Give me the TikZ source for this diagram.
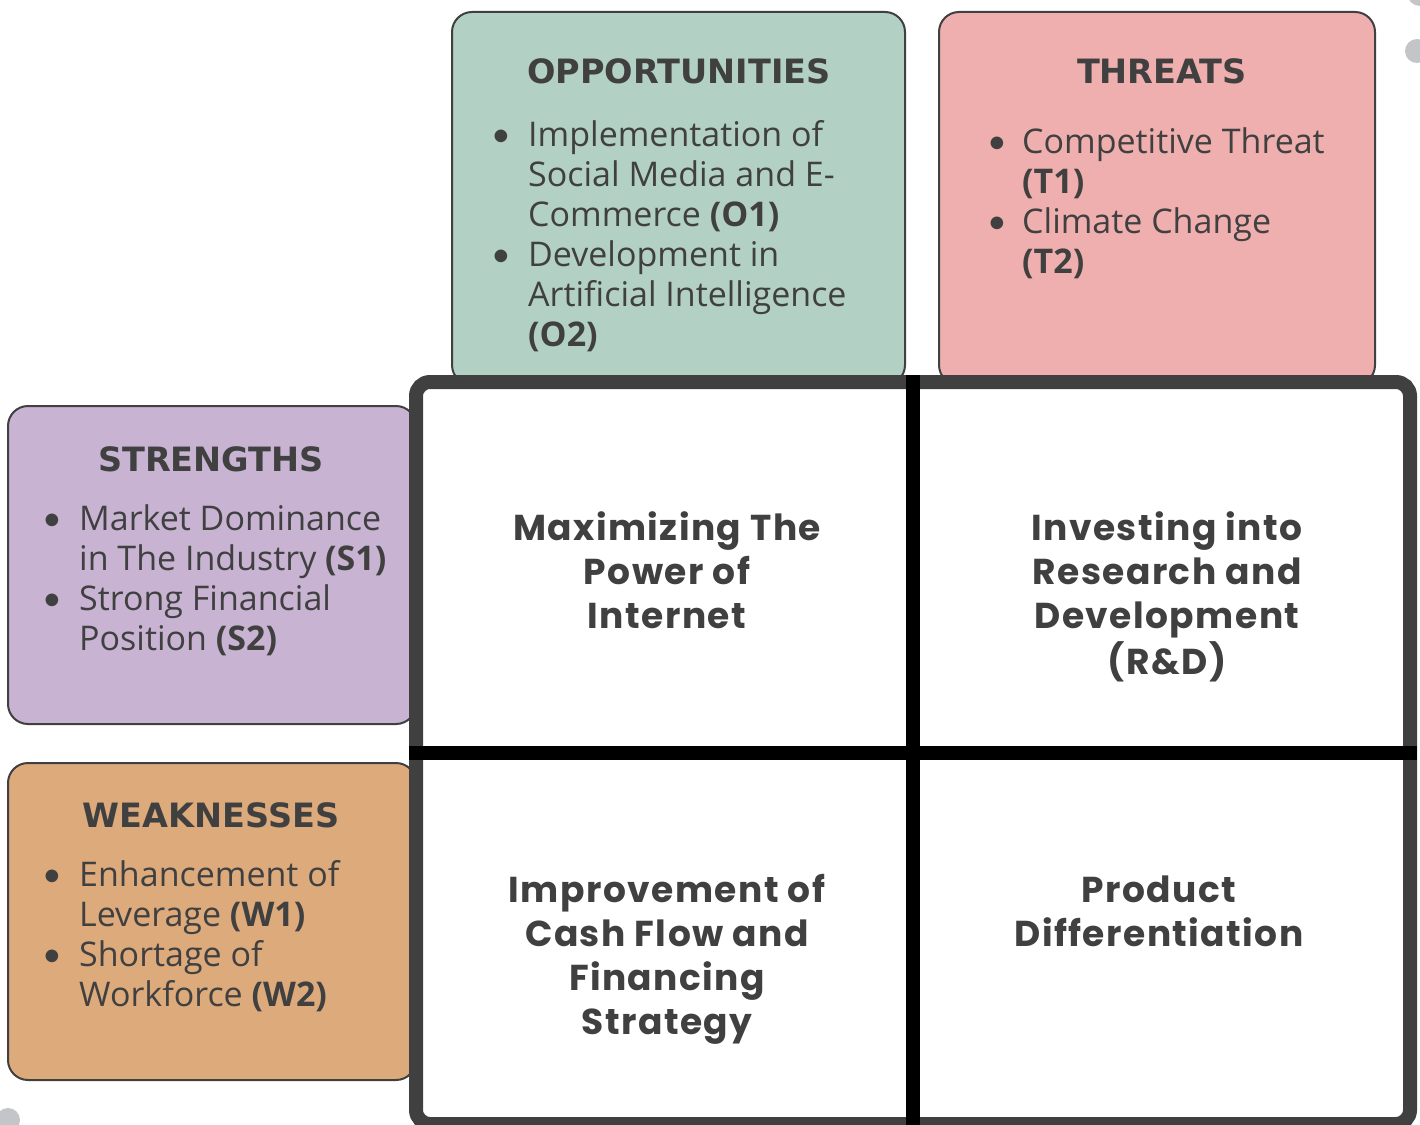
\documentclass[tikz,border=0pt]{standalone}
\usepackage{fontspec}
\setmainfont[Ligatures=CommonOff]{Open Sans}
\newfontfamily\cellfamily[LetterSpace=4]{Poppins}
\newfontfamily\headfamily{DejaVu Sans}
\newfontfamily\dotfamily{Lato}
\definecolor{oppgreen}{RGB}{179,208,196}
\definecolor{threatred}{RGB}{240,175,175}
\definecolor{strengthpurple}{RGB}{200,179,211}
\definecolor{weakorange}{RGB}{221,170,124}
\definecolor{inkgray}{RGB}{64,64,64}
\definecolor{dotgray}{RGB}{196,197,201}

\newcommand{\listfont}{\fontsize{34}{40}\selectfont}
\newcommand{\headfont}{\headfamily\fontsize{33.5}{40}\selectfont\bfseries}
\newcommand{\cellfont}{\cellfamily\fontsize{36}{44}\selectfont\bfseries}
\newcommand{\bul}{{\dotfamily\textbullet}}

\begin{document}
\begin{tikzpicture}[x=1pt, y=-1pt,
    swotbox/.style={draw=inkgray, line width=2pt, rounded corners=20pt},
    heading/.style={text=inkgray, font=\headfont, inner sep=0pt, anchor=base},
    itemlist/.style={text=inkgray, font=\listfont, inner sep=0pt, anchor=north west},
    celltext/.style={text=inkgray, font=\cellfont, inner sep=0pt, anchor=north}]
    \useasboundingbox (0,0) rectangle (1420,1124);

    % the four SWOT boxes
    \filldraw[swotbox, fill=oppgreen] (452,12) rectangle (905,385);
    \filldraw[swotbox, fill=threatred] (939,12) rectangle (1375,385);
    \filldraw[swotbox, fill=strengthpurple] (8,406) rectangle (416,724);
    \filldraw[swotbox, fill=weakorange] (8,763) rectangle (416,1080);

    % strategy grid
    \filldraw[fill=white, draw=inkgray, line width=14pt, rounded corners=14pt] (416,382) rectangle (1410,1124);
    \draw[line width=14pt] (913,375) -- (913,1131);
    \draw[line width=14pt] (409,753) -- (1417,753);

    \node[heading] (oppHead) at (679,83) {OPPORTUNITIES};
    \node[itemlist] (oppList) at (491,118) {\begin{tabular}{@{}p{37pt}@{}l@{}}
        \bul & Implementation of\\
        & Social Media and E-\\
        & Commerce \textbf{(O1)}\\
        \bul & Development in\\
        & Artificial Intelligence\\
        & \textbf{(O2)}
    \end{tabular}};

    \node[heading] (threatHead) at (1162,83) {THREATS};
    \node[itemlist] (threatList) at (987,125) {\begin{tabular}{@{}p{35pt}@{}l@{}}
        \bul & Competitive Threat\\
        & \textbf{(T1)}\\
        \bul & Climate Change\\
        & \textbf{(T2)}
    \end{tabular}};

    \node[heading] (strHead) at (211,471) {STRENGTHS};
    \node[itemlist] (strList) at (42,502) {\begin{tabular}{@{}p{37pt}@{}l@{}}
        \bul & Market Dominance\\
        & in The Industry \textbf{(S1)}\\
        \bul & Strong Financial\\
        & Position \textbf{(S2)}
    \end{tabular}};

    \node[heading] (weakHead) at (211,827) {WEAKNESSES};
    \node[itemlist] (weakList) at (42,858) {\begin{tabular}{@{}p{37pt}@{}l@{}}
        \bul & Enhancement of\\
        & Leverage \textbf{(W1)}\\
        \bul & Shortage of\\
        & Workforce \textbf{(W2)}
    \end{tabular}};

    % strategies in the cells
    \node[celltext] (soCell) at (667,509) {\begin{tabular}{@{}c@{}}
        Maximizing The\\ Power of\\ Internet\end{tabular}};
    \node[celltext] (stCell) at (1167,509) {\begin{tabular}{@{}c@{}}
        Investing into\\ Research and\\ Development\\ (R\&D)\end{tabular}};
    \node[celltext] (woCell) at (667,871) {\begin{tabular}{@{}c@{}}
        Improvement of\\ Cash Flow and\\ Financing\\ Strategy\end{tabular}};
    \node[celltext] (wtCell) at (1159,871) {\begin{tabular}{@{}c@{}}
        Product\\ Differentiation\end{tabular}};

    % page dots
    \fill[dotgray] (1420,-7) circle (13);
    \fill[dotgray] (1417,51) circle (12);
    \fill[dotgray] (8,1120) circle (12);
\end{tikzpicture}
\end{document}
